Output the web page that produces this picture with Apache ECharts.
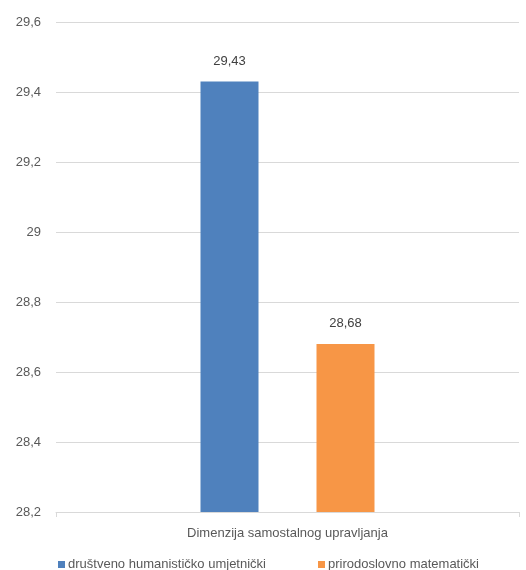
<!DOCTYPE html>
<html><head><meta charset="utf-8">
<script src="https://cdn.jsdelivr.net/npm/echarts@6/dist/echarts.min.js"></script>
<style>html,body{margin:0;padding:0;background:#fff}#c{width:526px;height:570px}</style>
</head><body><div id="c"></div>
<script>
const categories = ['Dimenzija samostalnog upravljanja'];
const seriesNames = ['društveno humanističko umjetnički', 'prirodoslovno matematički'];
const valuesA = [29.43];
const valuesB = [28.68];
const colors = ['#4F81BD', '#F79646'];
const fmt = v => String(Math.round(v * 100) / 100).replace('.', ',');
const font = '"Liberation Sans", Arial, sans-serif';
const legendCommon = {
  top: 553, itemWidth: 7, itemHeight: 7, icon: 'rect',
  textStyle: { color: '#595959', fontSize: 13, fontFamily: font, padding: [0, 0, 0, -2] }
};
const chart = echarts.init(document.getElementById('c'));
chart.setOption({
  animation: false,
  textStyle: { fontFamily: font },
  grid: { left: 56, right: 7, top: 22, bottom: 58 },
  legend: [
    Object.assign({ left: 53, data: [seriesNames[0]] }, legendCommon),
    Object.assign({ left: 313, data: [seriesNames[1]] }, legendCommon)
  ],
  xAxis: {
    type: 'category', data: categories,
    axisLine: { lineStyle: { color: '#D9D9D9' } },
    axisTick: { show: true, length: 5, lineStyle: { color: '#D9D9D9' } },
    axisLabel: { color: '#595959', fontSize: 13, margin: 15 }
  },
  yAxis: {
    type: 'value', min: 28.2, max: 29.6, interval: 0.2,
    axisLine: { show: false }, axisTick: { show: false },
    splitLine: { lineStyle: { color: '#D9D9D9' } },
    axisLabel: { color: '#595959', fontSize: 13, margin: 15, formatter: fmt }
  },
  series: [
    { name: seriesNames[0], type: 'bar', data: valuesA, barWidth: 58, barGap: '100%',
      itemStyle: { color: colors[0] },
      label: { show: true, position: 'top', distance: 14, color: '#404040', fontSize: 13, formatter: p => fmt(p.value) } },
    { name: seriesNames[1], type: 'bar', data: valuesB, barWidth: 58,
      itemStyle: { color: colors[1] },
      label: { show: true, position: 'top', distance: 14, color: '#404040', fontSize: 13, formatter: p => fmt(p.value) } }
  ]
});
</script></body></html>
